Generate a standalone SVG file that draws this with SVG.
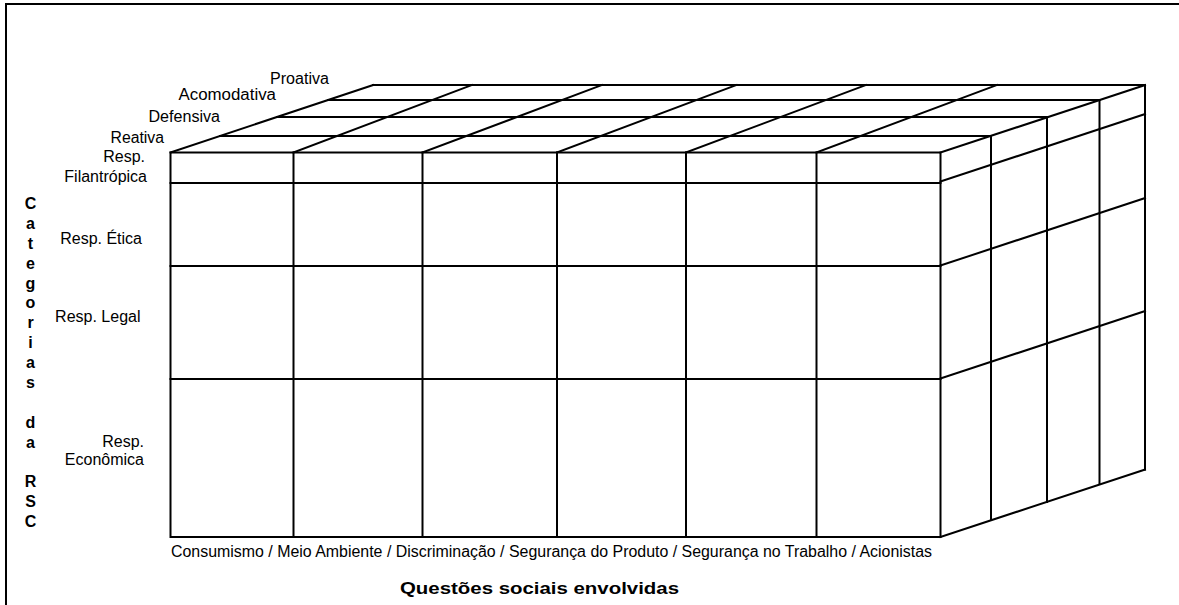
<svg xmlns="http://www.w3.org/2000/svg" width="1179" height="605" viewBox="0 0 1179 605">
<style>
.ln{stroke:#000;stroke-width:2;fill:none;stroke-linecap:square}
.lb{font-family:"Liberation Sans",Arial,sans-serif;font-size:16px;fill:#000}
.vt{font-family:"Liberation Sans",Arial,sans-serif;font-size:16px;font-weight:bold;fill:#000;text-anchor:middle}
</style>
<rect x="0" y="0" width="1179" height="605" fill="#fff"/>
<rect x="6" y="4" width="1200" height="700" fill="none" stroke="#000" stroke-width="2"/>
<g id="front-face" class="ln">
<rect x="170.5" y="152.5" width="770" height="384.5"/>
<line x1="170.5" y1="183" x2="940.5" y2="183"/>
<line x1="170.5" y1="266" x2="940.5" y2="266"/>
<line x1="170.5" y1="379" x2="940.5" y2="379"/>
<line x1="293.5" y1="152.5" x2="293.5" y2="537"/>
<line x1="422.5" y1="152.5" x2="422.5" y2="537"/>
<line x1="557" y1="152.5" x2="557" y2="537"/>
<line x1="686" y1="152.5" x2="686" y2="537"/>
<line x1="816.5" y1="152.5" x2="816.5" y2="537"/>
</g>
<g id="top-face" class="ln">
<line x1="220" y1="136" x2="991" y2="136"/>
<line x1="277" y1="117" x2="1047" y2="117"/>
<line x1="328" y1="100" x2="1099.5" y2="100"/>
<line x1="373" y1="85" x2="1145" y2="85"/>
<line x1="170.5" y1="152.5" x2="373" y2="85"/>
<line x1="293.5" y1="152.5" x2="472" y2="85"/>
<line x1="422.5" y1="152.5" x2="602" y2="85"/>
<line x1="557" y1="152.5" x2="736.5" y2="85"/>
<line x1="686" y1="152.5" x2="866" y2="85"/>
<line x1="816.5" y1="152.5" x2="997" y2="85"/>
<line x1="940.5" y1="152.5" x2="1145" y2="85"/>
</g>
<g id="side-face" class="ln">
<line x1="991" y1="136" x2="991" y2="520"/>
<line x1="1047" y1="117" x2="1047" y2="502"/>
<line x1="1099.5" y1="100" x2="1099.5" y2="484"/>
<line x1="1145" y1="85" x2="1145" y2="469.5"/>
<line x1="940.5" y1="181.5" x2="1145" y2="114"/>
<line x1="940.5" y1="265.5" x2="1145" y2="198"/>
<line x1="940.5" y1="378.5" x2="1145" y2="311"/>
<line x1="940.5" y1="537" x2="1145" y2="469.5"/>
</g>
<g id="depth-labels">
<text class="lb" x="270" y="84" textLength="59" lengthAdjust="spacingAndGlyphs">Proativa</text>
<text class="lb" x="178.5" y="100" textLength="97.5" lengthAdjust="spacingAndGlyphs">Acomodativa</text>
<text class="lb" x="148.5" y="121.5" textLength="71.5" lengthAdjust="spacingAndGlyphs">Defensiva</text>
<text class="lb" x="110.5" y="142.5" textLength="53.5" lengthAdjust="spacingAndGlyphs">Reativa</text>
</g>
<g id="row-labels" class="lb" text-anchor="end">
<text x="145" y="161.5">Resp.</text>
<text x="147" y="181.5">Filantrópica</text>
<text x="142" y="243.5">Resp. Ética</text>
<text x="140.5" y="322">Resp. Legal</text>
<text x="144" y="446.5">Resp.</text>
<text x="144" y="465">Econômica</text>
</g>
<g id="axis-y">
<text class="vt" x="30.5" y="209">C</text>
<text class="vt" x="30.5" y="228.9">a</text>
<text class="vt" x="30.5" y="248.8">t</text>
<text class="vt" x="30.5" y="268.6">e</text>
<text class="vt" x="30.5" y="288.5">g</text>
<text class="vt" x="30.5" y="308.4">o</text>
<text class="vt" x="30.5" y="328.3">r</text>
<text class="vt" x="30.5" y="348.1">i</text>
<text class="vt" x="30.5" y="368">a</text>
<text class="vt" x="30.5" y="387.9">s</text>
<text class="vt" x="30.5" y="427.6">d</text>
<text class="vt" x="30.5" y="447.5">a</text>
<text class="vt" x="30.5" y="487.2">R</text>
<text class="vt" x="30.5" y="507.1">S</text>
<text class="vt" x="30.5" y="527">C</text>
</g>
<g id="axis-x">
<text class="lb" x="171" y="557" font-size="15.5" textLength="761" lengthAdjust="spacingAndGlyphs">Consumismo / Meio Ambiente / Discriminação / Segurança do Produto / Segurança no Trabalho / Acionistas</text>
<text class="lb" x="400" y="594" font-size="20" font-weight="bold" textLength="279" lengthAdjust="spacingAndGlyphs">Questões sociais envolvidas</text>
</g>
</svg>
